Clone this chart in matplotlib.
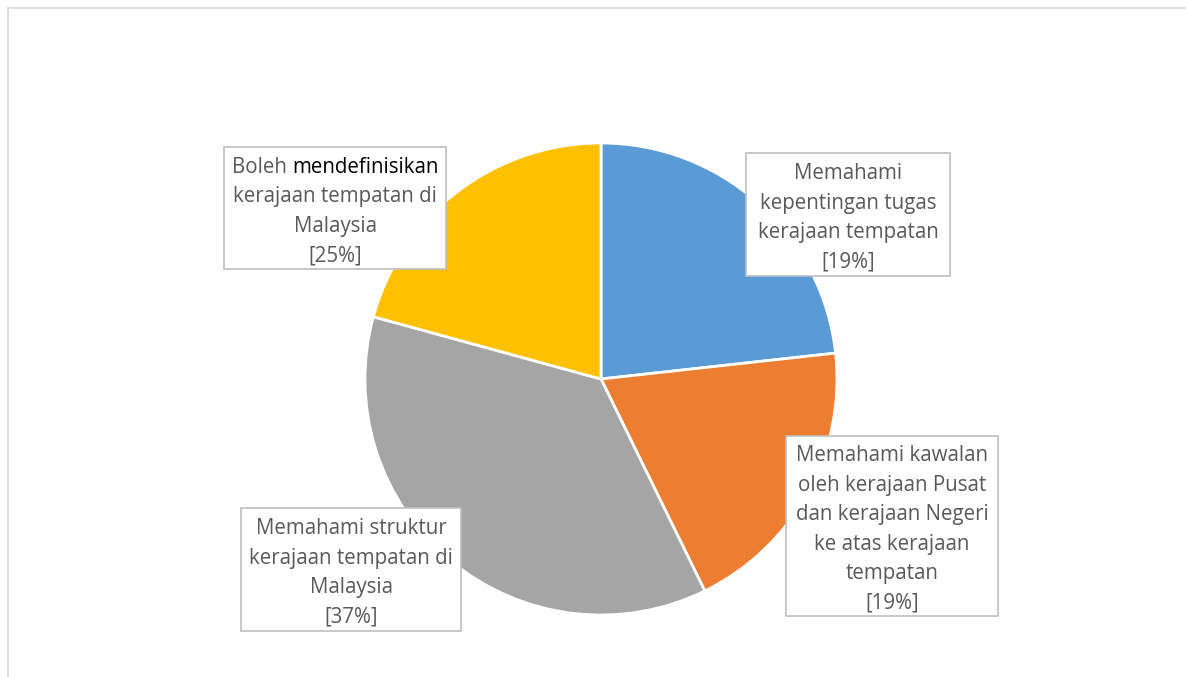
import matplotlib
matplotlib.use("Agg")
import matplotlib.pyplot as plt
from matplotlib.patches import Rectangle

# slice sizes as drawn (degrees, in percent)
slice_values = [23.25, 19.5, 36.5, 20.75]
slice_colors = ["#5B9BD5", "#ED7D31", "#A5A5A5", "#FFC000"]

# label text shown in the boxes (percentages as printed on the chart)
label_lines = [
    ["Memahami", "kepentingan tugas", "kerajaan tempatan", "[19%]"],
    ["Memahami kawalan", "oleh kerajaan Pusat", "dan kerajaan Negeri",
     "ke atas kerajaan", "tempatan", "[19%]"],
    ["Memahami struktur", "kerajaan tempatan di", "Malaysia", "[37%]"],
    ["Boleh mendefinisikan", "kerajaan tempatan di", "Malaysia", "[25%]"],
]
# label boxes in pixels: left, top, right, bottom
label_boxes = [
    (746, 153, 950, 276),
    (786, 436, 998, 616),
    (241, 508, 461, 631),
    (224, 147, 446, 269),
]

W, H = 1186, 677
FONT = "Open Sans"
TEXT_COLOR = "#595959"
FS = 14.8
LINE_H = 29.5
TEXT_SHIFT = 3.5  # px, nudges text down inside the boxes


def fx(px):
    return px / W


def fy(py):
    return 1 - py / H


def main() -> None:
    fig = plt.figure(figsize=(W / 100, H / 100), dpi=100)
    fig.patch.set_facecolor("white")

    # outer chart frame
    fig.add_artist(plt.Line2D([fx(8), fx(W)], [fy(8), fy(8)], color="#D9D9D9",
                              lw=1.2, transform=fig.transFigure))
    fig.add_artist(plt.Line2D([fx(8), fx(8)], [fy(8), fy(H)], color="#D9D9D9",
                              lw=1.2, transform=fig.transFigure))

    cx, cy, r = 601, 379, 236
    ax = fig.add_axes([fx(cx - r), fy(cy + r), 2 * r / W, 2 * r / H])
    ax.pie(slice_values, colors=slice_colors, startangle=90, counterclock=False,
           radius=1, wedgeprops=dict(edgecolor="white", linewidth=2))
    ax.set_xlim(-1, 1)
    ax.set_ylim(-1, 1)
    ax.axis("off")

    renderer = fig.canvas.get_renderer()

    for lines, (l, t, rr, b) in zip(label_lines, label_boxes):
        fig.add_artist(Rectangle((fx(l), fy(b)), (rr - l) / W, (b - t) / H,
                                 transform=fig.transFigure, facecolor="white",
                                 edgecolor="#BFBFBF", lw=1.2))
        xc = (l + rr) / 2
        n = len(lines)
        y0 = (t + b) / 2 - (n - 1) * LINE_H / 2 + TEXT_SHIFT
        for i, line in enumerate(lines):
            yy = y0 + i * LINE_H
            if line.startswith("Boleh "):
                full = fig.text(fx(xc), fy(yy), line, ha="center", va="center",
                                family=FONT, fontsize=FS, color="white", alpha=0)
                bb = full.get_window_extent(renderer)
                first = fig.text(bb.x0 / W, fy(yy), "Boleh ", ha="left",
                                 va="center", family=FONT, fontsize=FS,
                                 color=TEXT_COLOR)
                fb = first.get_window_extent(renderer)
                fig.text(fb.x1 / W, fy(yy), "mendefinisikan", ha="left",
                         va="center", family=FONT, fontsize=FS, color="black")
            else:
                fig.text(fx(xc), fy(yy), line, ha="center", va="center",
                         family=FONT, fontsize=FS, color=TEXT_COLOR)

    fig.savefig("out.png", dpi=100)
    plt.close(fig)


if __name__ == "__main__":
    main()
